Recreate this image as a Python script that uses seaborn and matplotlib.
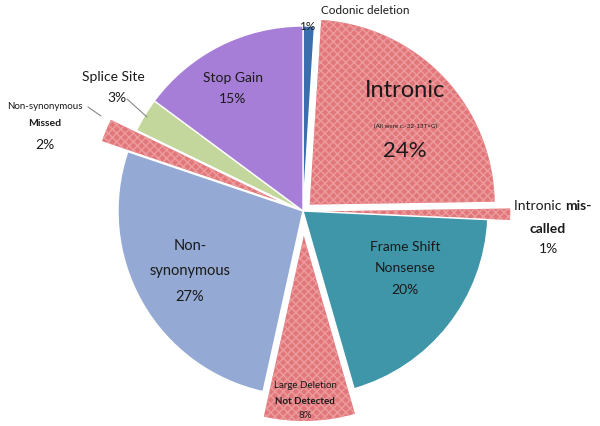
import numpy as np
import matplotlib.pyplot as plt
import seaborn as sns

categories = ["Codonic deletion", "Intronic", "Intronic mis-called", "Frame Shift Nonsense",
              "Large Deletion Not Detected", "Non-synonymous", "Non-synonymous Missed",
              "Splice Site", "Stop Gain"]
shares = [1, 24, 1, 20, 8, 27, 2, 3, 15]
explode = [0, 0.05, 0.12, 0, 0.135, 0, 0.15, 0, 0]
colors = ["#3B6EAC", "#E2777B", "#E2777B", "#3E96A8", "#E2777B",
          "#94A9D3", "#E2777B", "#C3D79C", "#A77ED7"]
hatched = [False, True, True, False, True, False, True, False, False]

sns.set_theme(style="white")
plt.rcParams['font.family'] = ['Lato', 'DejaVu Sans']
plt.rcParams['hatch.linewidth'] = 1.1

fig = plt.figure(figsize=(6, 4.27), dpi=100)
ax = fig.add_axes([0, 0, 1, 1])

wedges, _ = ax.pie(shares, explode=explode, colors=colors, startangle=90, counterclock=False,
                   wedgeprops=dict(edgecolor="white", linewidth=1.0))
for w, h in zip(wedges, hatched):
    if h:
        w.set_hatch("xxxx")
        w.set_edgecolor("#EC9A9C")
        w.set_linewidth(0)

# axes scaled so that the pie radius is 185 px, centred at (303, 212)
R = 185.0
ax.set_xlim(-303 / R, 297 / R)
ax.set_ylim(-215 / R, 212 / R)
ax.set_aspect("equal")
ax.axis("off")


def P(px, py):
    return (px - 303) / R, (212 - py) / R


def txt(px, py, s, size, weight="normal", ha="center"):
    x, y = P(px, py)
    ax.text(x, y, s, fontsize=size, fontweight=weight, ha=ha, va="center", color="#1a1a1a")


txt(365, 10, "Codonic deletion", 8.5)
txt(307, 26, "1%", 8.5)
txt(405, 90, "Intronic", 17)
txt(405, 126, "(All were c.-32-13T>G)", 4.5)
txt(405, 151, "24%", 16)
txt(565, 206, "Intronic ", 10, ha="right")
txt(565, 206, "mis-", 10, weight="bold", ha="left")
txt(548, 229, "called", 10, weight="bold")
txt(548, 249, "1%", 10)
txt(405, 247, "Frame Shift", 10)
txt(405, 268, "Nonsense", 10)
txt(405, 290, "20%", 10)
txt(305, 386, "Large Deletion", 7)
txt(305, 402, "Not Detected", 7, weight="bold")
txt(305, 416, "8%", 7)
txt(190, 246, "Non-", 10.5)
txt(190, 271, "synonymous", 10.5)
txt(190, 297, "27%", 10.5)
txt(113, 77, "Splice Site", 10)
txt(117, 98, "3%", 10)
txt(45, 106, "Non-synonymous", 7)
txt(45, 123, "Missed", 7.5, weight="bold")
txt(45, 145, "2%", 10)
txt(233, 78, "Stop Gain", 10)
txt(233, 99, "15%", 10)

# leader lines
for (a, b) in [((127, 100), (147, 118)), ((88, 108), (101, 117))]:
    (x0, y0), (x1, y1) = P(*a), P(*b)
    ax.plot([x0, x1], [y0, y1], color="#888888", lw=0.8)

fig.savefig("out.png", dpi=100)
